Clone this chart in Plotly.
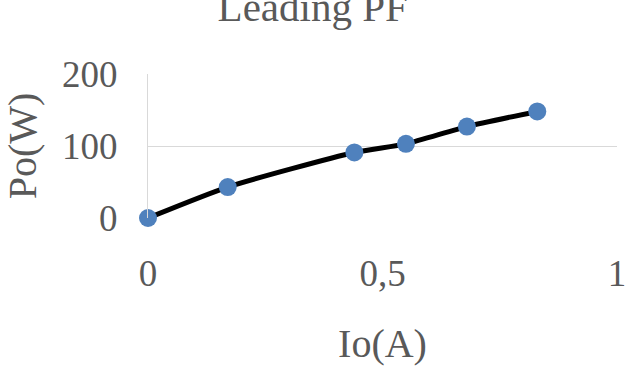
import plotly.graph_objects as go

io_a = [0, 0.17, 0.44, 0.55, 0.68, 0.83]
po_w = [0, 43, 91, 103, 127, 148]
x_ticks = [0, 0.5, 1]
y_ticks = [0, 100, 200]

TXT = "#595959"
FONT = "'Liberation Serif', 'Times New Roman', serif"

fig = go.Figure()
fig.add_trace(go.Scatter(
    x=io_a, y=po_w, mode="lines+markers",
    line=dict(color="black", width=5, shape="spline", smoothing=0.6),
    marker=dict(color="#4F81BD", size=18),
    showlegend=False, cliponaxis=False,
))

fig.update_layout(
    width=633, height=369,
    margin=dict(l=148, r=16, t=74, b=151),
    paper_bgcolor="white", plot_bgcolor="white",
    separators=", ",
    font=dict(family=FONT, color=TXT, size=37),
    title=dict(text="Leading PF", x=0.494, xref="container", xanchor="center",
               y=1 - 7 / 369, yref="container", yanchor="middle",
               font=dict(family=FONT, size=41, color=TXT)),
    xaxis=dict(range=[0, 1], tickvals=x_ticks, tickformat=".1~f",
               showgrid=False, zeroline=False, showline=False, ticks="",
               ticklabelstandoff=30, automargin=False,
               title=dict(text="Io(A)", standoff=35, font=dict(size=40))),
    yaxis=dict(range=[0, 200], tickvals=y_ticks, showgrid=True,
               gridcolor="#D9D9D9", gridwidth=1, zeroline=False,
               showline=True, linecolor="#D9D9D9", linewidth=1, ticks="",
               ticklabelstandoff=22, automargin=False,
               title=dict(text="Po(W)", standoff=27, font=dict(size=40))),
)

fig.write_html("out.html")
